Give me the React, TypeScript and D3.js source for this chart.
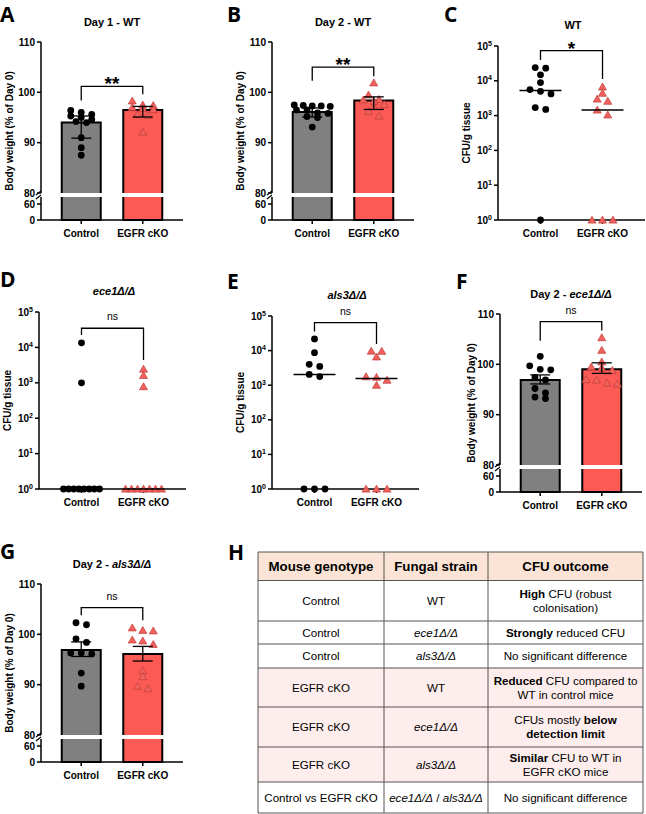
import React from "react";
import * as d3 from "d3";

const FONT = "'Liberation Sans', Arial, sans-serif";
const groups = ["Control", "EGFR cKO"];
const fills = ["#808080", "#fb5a55"];

// A: Day 1 - WT body weight (% of day 0)
const ctrlA = [96.4, 96.0, 95.6, 95.3, 95.0, 94.6, 94.2, 94.0, 91.0, 89.0, 87.5];
const egfrA = [98.3, 97.5, 97.4, 97.0, 96.8, 96.6, 95.6, 95.4, 92.1];
const meanA = [94.0, 96.5];
const loA = [90.9, 95.1];
const hiA = [95.3, 97.2];
const bracketA = [101.2, 98.4, 99.6];

// B: Day 2 - WT
const ctrlB = [97.5, 97.4, 97.3, 97.3, 97.2, 96.5, 96.5, 95.9, 95.8, 95.2, 95.0, 93.1];
const egfrB = [101.9, 99.5, 98.6, 98.5, 98.2, 97.6, 97.2, 96.2, 95.3];
const meanB = [96.1, 98.4];
const loB = [95.1, 96.6];
const hiB = [96.9, 99.1];
const bracketB = [105.0, 102.3, 103.2];

// F: Day 2 - ece1
const ctrlF = [101.6, 99.7, 99.0, 98.9, 97.4, 96.9, 95.2, 94.3, 93.5, 93.2];
const egfrF = [105.3, 102.8, 100.5, 99.5, 99.3, 98.8, 97.0, 96.9, 96.3, 96.1];
const meanF = [96.9, 99.0];
const loF = [96.1, 98.2];
const hiF = [97.9, 100.3];
const bracketF = [108.5, 104.7, 106.7];

// G: Day 2 - als3
const ctrlG = [102.3, 101.9, 99.1, 98.4, 96.3, 96.3, 96.1, 92.3, 89.7];
const egfrG = [101.3, 100.8, 100.7, 98.9, 98.7, 98.0, 92.8, 91.6, 89.7, 89.2];
const meanG = [96.9, 96.1];
const loG = [95.6, 94.7];
const hiG = [98.5, 97.6];
const bracketG = [105.3, 103.8, 102.8];

// CFU/g tissue
const ctrlC = [24000, 23000, 14800, 8900, 5600, 5000, 4200, 1700, 1500, 1];
const egfrC = [6700, 4400, 3000, 2600, 1450, 1050, 1, 1, 1];
const bracketC = [73300, 39800, 11200];
const ctrlD = [13500, 1000, 1, 1, 1, 1, 1, 1, 1, 1];
const egfrD = [2450, 1620, 780, 1, 1, 1, 1, 1, 1, 1];
const bracketD = [34700, 22400, 4400];
const ctrlE = [21700, 8700, 4000, 3500, 2050, 1780, 1, 1, 1];
const egfrE = [9700, 9600, 6600, 1770, 1700, 1400, 1000, 1, 1, 1];
const bracketE = [64600, 35500, 15500];
const logTicks = [1, 10, 100, 1000, 10000, 100000];

// H: table
const tableHeader = ["Mouse genotype", "Fungal strain", "CFU outcome"];
const tableGenotype = ["Control", "Control", "Control", "EGFR cKO", "EGFR cKO", "EGFR cKO", "Control vs EGFR cKO"];
const tableStrain = ["WT", "_ece1Δ/Δ_", "_als3Δ/Δ_", "WT", "_ece1Δ/Δ_", "_als3Δ/Δ_", "_ece1Δ/Δ_ / _als3Δ/Δ_"];
const tableOutcome = [
  "**High** CFU (robust\ncolonisation)",
  "**Strongly** reduced CFU",
  "No significant difference",
  "**Reduced** CFU compared to\nWT in control mice",
  "CFUs mostly **below**\n**detection limit**",
  "**Similar** CFU to WT in\nEGFR cKO mice",
  "No significant difference",
];
const tableRowsY = [552, 580.5, 621, 644, 668, 707, 747, 782, 813];
const tableColsX = [258, 384, 488, 643];

function richLine(line: string) {
  const parts = line.split(/(\*\*[^*]+\*\*|_[^_]+_)/).filter((s) => s.length > 0);
  return parts.map((s, j) =>
    s.startsWith("**") ? (
      <tspan key={j} fontWeight={700}>{s.slice(2, -2)}</tspan>
    ) : s.startsWith("_") ? (
      <tspan key={j} fontStyle="italic">{s.slice(1, -1)}</tspan>
    ) : (
      <tspan key={j}>{s}</tspan>
    )
  );
}

function Rich({ text, x, y, size, bold = false, lh = 14 }: any) {
  const lines = text.split("\n");
  return (
    <g>
      {lines.map((line: string, i: number) => (
        <text key={i} x={x} y={y + (i - (lines.length - 1) / 2) * lh} dy="0.35em" textAnchor="middle"
          fontSize={size} fontWeight={bold ? 700 : 400} fontFamily={FONT} fill="#000">
          {richLine(line)}
        </text>
      ))}
    </g>
  );
}

// rows of jittered points, centred on the group like a Prism scatter
function swarm(vals: number[], yf: (v: number) => number, maxW = 36, step = 10.5, thr = 5) {
  const sorted = vals.map((v) => ({ v, y: yf(v) })).sort((a, b) => a.y - b.y);
  const out: { v: number; y: number; dx: number }[] = [];
  let row: { v: number; y: number }[] = [];
  const flush = () => {
    const n = row.length;
    const s = n > 1 ? Math.min(step, maxW / (n - 1)) : 0;
    row.forEach((p, i) => out.push({ ...p, dx: (i - (n - 1) / 2) * s }));
    row = [];
  };
  sorted.forEach((p) => {
    if (row.length && p.y - row[0].y > thr) flush();
    row.push(p);
  });
  if (row.length) flush();
  return out;
}

const tri = d3.symbol().type(d3.symbolTriangle).size(28)()!;

function Marks({ vals, i, cx, yf }: any) {
  return (
    <g>
      {swarm(vals, yf).map((p, k) =>
        i === 0 ? (
          <circle key={k} cx={cx + p.dx} cy={p.y} r={3.4} fill="#000" />
        ) : (
          <path key={k} d={tri} transform={`translate(${cx + p.dx},${p.y + 0.8})`} fill="#f0605c" stroke="#c23e3a" strokeWidth={0.7} />
        )
      )}
    </g>
  );
}

function Bracket({ x1, x2, top, l, r, label }: any) {
  const stars = label !== "ns";
  return (
    <g>
      <path d={`M${x1},${l}V${top}H${x2}V${r}`} fill="none" stroke="#000" strokeWidth={1.3} />
      <text x={(x1 + x2) / 2} y={stars ? top + 4 : top - 8} textAnchor="middle" fontFamily={FONT}
        fontSize={stars ? 19 : 10.5} fontWeight={stars ? 700 : 400}>{label}</text>
    </g>
  );
}

function YLabel({ text, x, y }: any) {
  return (
    <text transform={`translate(${x},${y}) rotate(-90)`} textAnchor="middle" fontFamily={FONT} fontSize={10} fontWeight={700}>{text}</text>
  );
}

function BarPanel(p: any) {
  const W = 142, gapTop = 151, lowTop = 155, base = 178, bw = 39;
  const y = d3.scaleLinear().domain([80, 110]).range([gapTop, 0]);
  const yLow = d3.scaleLinear().domain([0, 60]).range([base, 162]);
  const x = d3.scalePoint<string>().domain(groups).range([0, W]).padding(0.654);
  const series = [p.ctrl, p.egfr];
  return (
    <g transform={`translate(${p.ox},${p.oy})`}>
      {groups.map((g, i) => {
        const cx = x(g)!;
        const top = y(p.mean[i]);
        return (
          <g key={g}>
            <rect x={cx - bw / 2} y={top} width={bw} height={gapTop - top} fill={fills[i]} />
            <path d={`M${cx - bw / 2},${gapTop}V${top}H${cx + bw / 2}V${gapTop}`} fill="none" stroke="#000" strokeWidth={2} />
            <rect x={cx - bw / 2} y={lowTop} width={bw} height={base - lowTop} fill={fills[i]} />
            <path d={`M${cx - bw / 2},${lowTop}V${base}H${cx + bw / 2}V${lowTop}`} fill="none" stroke="#000" strokeWidth={2} />
          </g>
        );
      })}
      {groups.map((g, i) => (
        <Marks key={g} vals={series[i]} i={i} cx={x(g)!} yf={y} />
      ))}
      {groups.map((g, i) => {
        const cx = x(g)!;
        return (
          <g key={g} stroke="#000" strokeWidth={1.3}>
            <line x1={cx} x2={cx} y1={y(p.lo[i])} y2={y(p.hi[i])} />
            <line x1={cx - 10} x2={cx + 10} y1={y(p.lo[i])} y2={y(p.lo[i])} />
            <line x1={cx - 10} x2={cx + 10} y1={y(p.hi[i])} y2={y(p.hi[i])} />
          </g>
        );
      })}
      <Bracket x1={x(groups[0])} x2={x(groups[1])} top={y(p.bracket[0])} l={y(p.bracket[1])} r={y(p.bracket[2])} label={p.sig} />
      {/* axes */}
      <g stroke="#000" strokeWidth={1.5} fill="none">
        <line x1={0} x2={0} y1={0} y2={gapTop} />
        <line x1={0} x2={0} y1={lowTop} y2={base} />
        <line x1={0} x2={W} y1={base} y2={base} />
        <path d={`M-5,${gapTop + 2}L0,${gapTop - 2}M-5,${lowTop + 2}L0,${lowTop - 2}`} strokeWidth={1.2} />
        {y.ticks(3).map((t) => <line key={t} x1={-4} x2={0} y1={y(t)} y2={y(t)} />)}
        {[0, 60].map((t) => <line key={t} x1={-4} x2={0} y1={yLow(t)} y2={yLow(t)} />)}
        {groups.map((g) => <line key={g} x1={x(g)} x2={x(g)} y1={base} y2={base + 4} />)}
      </g>
      <g fontFamily={FONT} fontSize={10} fontWeight={700} textAnchor="end">
        {y.ticks(3).map((t) => <text key={t} x={-6} y={y(t)} dy="0.35em">{t}</text>)}
        {[0, 60].map((t) => <text key={t} x={-6} y={yLow(t)} dy="0.35em">{t}</text>)}
      </g>
      <g fontFamily={FONT} fontSize={10} fontWeight={700} textAnchor="middle">
        {groups.map((g) => <text key={g} x={x(g)} y={base + 17}>{g}</text>)}
      </g>
      <YLabel text="Body weight (% of Day 0)" x={p.lx ?? -28} y={base / 2} />
      <Rich text={p.title} x={71} y={-20} size={11} bold />
    </g>
  );
}

function ScatterPanel(p: any) {
  const W = 147, h = p.h;
  const y = d3.scaleLog().domain([1, 1e5]).range([h, 0]);
  const x = d3.scalePoint<string>().domain(groups).range([0, W]).padding(0.685);
  const series = [p.ctrl, p.egfr];
  return (
    <g transform={`translate(${p.ox},${p.oy})`}>
      <g stroke="#000" strokeWidth={1.5} fill="none">
        <line x1={0} x2={0} y1={0} y2={h} />
        <line x1={0} x2={W} y1={h} y2={h} />
        {logTicks.map((t) => <line key={t} x1={-4} x2={0} y1={y(t)} y2={y(t)} />)}
        {groups.map((g) => <line key={g} x1={x(g)} x2={x(g)} y1={h} y2={h + 4} />)}
      </g>
      {groups.map((g, i) => (
        <Marks key={g} vals={series[i]} i={i} cx={x(g)!} yf={y} />
      ))}
      {groups.map((g, i) => {
        const m = d3.median(series[i])!;
        return <line key={g} x1={x(g)! - 21} x2={x(g)! + 21} y1={y(m)} y2={y(m)} stroke="#000" strokeWidth={1.5} />;
      })}
      <Bracket x1={x(groups[0])} x2={x(groups[1])} top={y(p.bracket[0])} l={y(p.bracket[1])} r={y(p.bracket[2])} label={p.sig} />
      <g fontFamily={FONT} fontSize={10} fontWeight={700} textAnchor="end">
        {logTicks.map((t) => (
          <text key={t} x={-6} y={y(t)} dy="0.35em">
            10<tspan fontSize={7} dy={-4}>{Math.round(Math.log10(t))}</tspan>
          </text>
        ))}
      </g>
      <g fontFamily={FONT} fontSize={10} fontWeight={700} textAnchor="middle">
        {groups.map((g) => <text key={g} x={x(g)} y={h + 17}>{g}</text>)}
      </g>
      <YLabel text="CFU/g tissue" x={-28} y={h / 2} />
      <Rich text={p.title} x={75} y={-21} size={11} bold />
    </g>
  );
}

function Letter({ t, x, y }: any) {
  return <text x={x} y={y} fontFamily="'Open Sans', sans-serif" fontSize={21} fontWeight={700}>{t}</text>;
}

function Table() {
  const [x0, c1, c2, x3] = tableColsX;
  const cols = [(x0 + c1) / 2, (c1 + c2) / 2, (c2 + x3) / 2];
  const cells = [tableGenotype, tableStrain, tableOutcome];
  return (
    <g>
      <rect x={x0} y={tableRowsY[0]} width={x3 - x0} height={tableRowsY[1] - tableRowsY[0]} fill="#fbe4d5" />
      {[3, 4, 5].map((r) => (
        <rect key={r} x={x0} y={tableRowsY[r + 1]} width={x3 - x0} height={tableRowsY[r + 2] - tableRowsY[r + 1]} fill="#fdeded" />
      ))}
      <g stroke="#555" strokeWidth={1}>
        {tableRowsY.map((ry, i) => <line key={i} x1={x0} x2={x3} y1={ry} y2={ry} />)}
        {tableColsX.map((cx, i) => <line key={i} x1={cx} x2={cx} y1={tableRowsY[0]} y2={tableRowsY[tableRowsY.length - 1]} />)}
      </g>
      {tableHeader.map((hd, i) => (
        <Rich key={i} text={hd} x={cols[i]} y={(tableRowsY[0] + tableRowsY[1]) / 2} size={13.3} bold />
      ))}
      {tableGenotype.map((_, r) =>
        cells.map((col, c) => (
          <Rich key={`${r}-${c}`} text={col[r]} x={cols[c]} y={(tableRowsY[r + 1] + tableRowsY[r + 2]) / 2} size={11.6} />
        ))
      )}
    </g>
  );
}

export default function App() {
  return (
    <svg width={646} height={814} style={{ position: "absolute", left: 0, top: 0, background: "#fff" }}>
      <rect width={646} height={814} fill="#fff" />
      <Letter t="A" x={0} y={22} />
      <Letter t="B" x={227} y={22} />
      <Letter t="C" x={444} y={22} />
      <Letter t="D" x={0} y={287} />
      <Letter t="E" x={227} y={289} />
      <Letter t="F" x={456} y={289} />
      <Letter t="G" x={0} y={559} />
      <Letter t="H" x={228} y={560} />
      <BarPanel ox={41} oy={42} title="Day 1 - WT" ctrl={ctrlA} egfr={egfrA} mean={meanA} lo={loA} hi={hiA} bracket={bracketA} sig="**" />
      <BarPanel ox={272} oy={42} title="Day 2 - WT" ctrl={ctrlB} egfr={egfrB} mean={meanB} lo={loB} hi={hiB} bracket={bracketB} sig="**" />
      <BarPanel ox={500} oy={314} lx={-25} title="Day 2 - _ece1Δ/Δ_" ctrl={ctrlF} egfr={egfrF} mean={meanF} lo={loF} hi={hiF} bracket={bracketF} sig="ns" />
      <BarPanel ox={41} oy={584} title="Day 2 - _als3Δ/Δ_" ctrl={ctrlG} egfr={egfrG} mean={meanG} lo={loG} hi={hiG} bracket={bracketG} sig="ns" />
      <ScatterPanel ox={498} oy={46} h={174} title="WT" ctrl={ctrlC} egfr={egfrC} bracket={bracketC} sig="*" />
      <ScatterPanel ox={39} oy={312} h={177} title="_ece1Δ/Δ_" ctrl={ctrlD} egfr={egfrD} bracket={bracketD} sig="ns" />
      <ScatterPanel ox={272} oy={316} h={173} title="_als3Δ/Δ_" ctrl={ctrlE} egfr={egfrE} bracket={bracketE} sig="ns" />
      <Table />
    </svg>
  );
}
